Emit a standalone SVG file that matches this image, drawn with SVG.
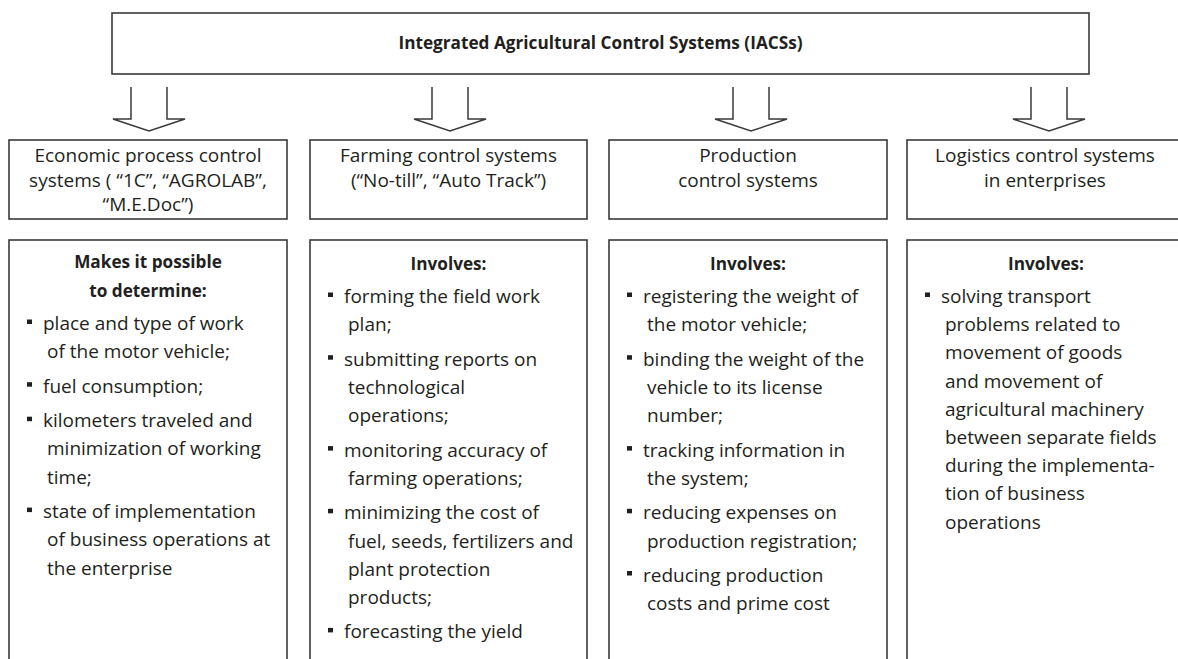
<svg xmlns="http://www.w3.org/2000/svg" width="1178" height="659" viewBox="0 0 1178 659">
<style>
.box{fill:#fff;stroke:#3a3a3a;stroke-width:1.6}
.arr{fill:#fff;stroke:#3a3a3a;stroke-width:1.5;stroke-linejoin:miter}
.t{font-family:"Open Sans","Noto Sans","DejaVu Sans",sans-serif;font-size:19px;fill:#231f20}
.c{text-anchor:middle}
.b{font-family:"Open Sans","Noto Sans","DejaVu Sans",sans-serif;font-size:17.2px;font-weight:bold;fill:#231f20;text-anchor:middle}
.bul{fill:#231f20}
</style>
<rect width="1178" height="659" fill="#fff"/>

<g id="top">
<rect class="box" x="112" y="13" width="977" height="61"/>
<text class="b" x="600.5" y="49">Integrated Agricultural Control Systems (IACSs)</text>
</g>

<g id="connectors">
<path class="arr" d="M131,87 V119 H113 L149,131 L185,119 H167 V87"/>
<path class="arr" d="M432,87 V119 H414 L450,131 L486,119 H468 V87"/>
<path class="arr" d="M733,87 V119 H715 L751,131 L787,119 H769 V87"/>
<path class="arr" d="M1031,87 V119 H1013 L1049,131 L1085,119 H1067 V87"/>
</g>

<g id="sys-economic">
<rect class="box" x="9" y="140" width="278" height="79"/>
<text class="t c" x="148" y="162">Economic process control</text>
<text class="t c" x="148" y="186.5">systems ( “1C”, “AGROLAB”,</text>
<text class="t c" x="148" y="211">“M.E.Doc”)</text>
</g>

<g id="sys-farming">
<rect class="box" x="310" y="140" width="277" height="79"/>
<text class="t c" x="448.5" y="162">Farming control systems</text>
<text class="t c" x="448.5" y="186.5">(“No-till”, “Auto Track”)</text>
</g>

<g id="sys-production">
<rect class="box" x="609" y="140" width="278" height="79"/>
<text class="t c" x="748" y="162">Production</text>
<text class="t c" x="748" y="186.5">control systems</text>
</g>

<g id="sys-logistics">
<rect class="box" x="907" y="140" width="290" height="79"/>
<text class="t c" x="1045" y="162">Logistics control systems</text>
<text class="t c" x="1045" y="186.5">in enterprises</text>
</g>

<g id="det-economic">
<rect class="box" x="9" y="240" width="278" height="440"/>
<text class="b" x="148" y="268">Makes it possible</text>
<text class="b" x="148" y="296.5">to determine:</text>
<rect class="bul" x="27" y="319.5" width="5" height="4.5"/>
<text class="t" x="43" y="330">place and type of work</text>
<text class="t" x="47" y="358.2">of the motor vehicle;</text>
<rect class="bul" x="27" y="382.2" width="5" height="4.5"/>
<text class="t" x="43" y="392.7">fuel consumption;</text>
<rect class="bul" x="27" y="416.7" width="5" height="4.5"/>
<text class="t" x="43" y="427.2">kilometers traveled and</text>
<text class="t" x="47" y="455.4">minimization of working</text>
<text class="t" x="47" y="483.6">time;</text>
<rect class="bul" x="27" y="507.6" width="5" height="4.5"/>
<text class="t" x="43" y="518.1">state of implementation</text>
<text class="t" x="47" y="546.3">of business operations at</text>
<text class="t" x="47" y="574.5">the enterprise</text>
</g>

<g id="det-farming">
<rect class="box" x="310" y="240" width="277" height="440"/>
<text class="b" x="448.5" y="270">Involves:</text>
<rect class="bul" x="328" y="292.5" width="5" height="4.5"/>
<text class="t" x="344" y="303">forming the field work</text>
<text class="t" x="348" y="331.2">plan;</text>
<rect class="bul" x="328" y="355.2" width="5" height="4.5"/>
<text class="t" x="344" y="365.7">submitting reports on</text>
<text class="t" x="348" y="393.9">technological</text>
<text class="t" x="348" y="422.1">operations;</text>
<rect class="bul" x="328" y="446.1" width="5" height="4.5"/>
<text class="t" x="344" y="456.6">monitoring accuracy of</text>
<text class="t" x="348" y="484.8">farming operations;</text>
<rect class="bul" x="328" y="508.8" width="5" height="4.5"/>
<text class="t" x="344" y="519.3">minimizing the cost of</text>
<text class="t" x="348" y="547.5">fuel, seeds, fertilizers and</text>
<text class="t" x="348" y="575.7">plant protection</text>
<text class="t" x="348" y="603.9">products;</text>
<rect class="bul" x="328" y="627.9" width="5" height="4.5"/>
<text class="t" x="344" y="638.4">forecasting the yield</text>
</g>

<g id="det-production">
<rect class="box" x="609" y="240" width="278" height="440"/>
<text class="b" x="748" y="270">Involves:</text>
<rect class="bul" x="627" y="292.5" width="5" height="4.5"/>
<text class="t" x="643" y="303">registering the weight of</text>
<text class="t" x="647" y="331.2">the motor vehicle;</text>
<rect class="bul" x="627" y="355.2" width="5" height="4.5"/>
<text class="t" x="643" y="365.7">binding the weight of the</text>
<text class="t" x="647" y="393.9">vehicle to its license</text>
<text class="t" x="647" y="422.1">number;</text>
<rect class="bul" x="627" y="446.1" width="5" height="4.5"/>
<text class="t" x="643" y="456.6">tracking information in</text>
<text class="t" x="647" y="484.8">the system;</text>
<rect class="bul" x="627" y="508.8" width="5" height="4.5"/>
<text class="t" x="643" y="519.3">reducing expenses on</text>
<text class="t" x="647" y="547.5">production registration;</text>
<rect class="bul" x="627" y="571" width="5" height="4.5"/>
<text class="t" x="643" y="581.5">reducing production</text>
<text class="t" x="647" y="609.7">costs and prime cost</text>
</g>

<g id="det-logistics">
<rect class="box" x="907" y="240" width="290" height="440"/>
<text class="b" x="1046" y="270">Involves:</text>
<rect class="bul" x="925" y="292.5" width="5" height="4.5"/>
<text class="t" x="941" y="303">solving transport</text>
<text class="t" x="945" y="331.2">problems related to</text>
<text class="t" x="945" y="359.4">movement of goods</text>
<text class="t" x="945" y="387.6">and movement of</text>
<text class="t" x="945" y="415.8">agricultural machinery</text>
<text class="t" x="945" y="444">between separate fields</text>
<text class="t" x="945" y="472.2">during the implementa-</text>
<text class="t" x="945" y="500.4">tion of business</text>
<text class="t" x="945" y="528.6">operations</text>
</g>
</svg>
